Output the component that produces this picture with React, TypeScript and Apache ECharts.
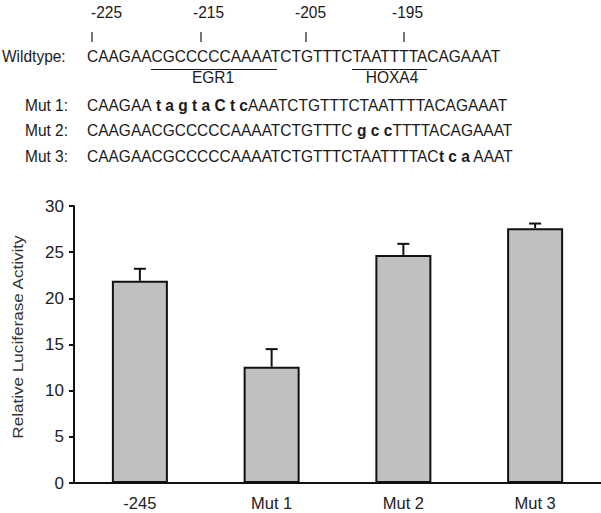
import React, { useEffect, useRef } from "react";
import * as echarts from "echarts";

const categories = ["-245", "Mut 1", "Mut 2", "Mut 3"];
const activity = [21.9, 12.6, 24.7, 27.6];
const errorUpper = [1.3, 1.9, 1.2, 0.5];
const yTicks = { min: 0, max: 30, interval: 5 };

const positionLabels = ["-225", "-215", "-205", "-195"];
const wildtypeSeq = "CAAGAACGCCCCCAAAATCTGTTTCTAATTTTACAGAAAT";
const mutRows = [
  { label: "Mut 1:", parts: [["n", "CAAGAA "], ["b", "t a g t a C t c"], ["n", "AAATCTGTTTCTAATTTTACAGAAAT"]] },
  { label: "Mut 2:", parts: [["n", "CAAGAACGCCCCCAAAATCTGTTTC "], ["b", "g c c"], ["n", "TTTTACAGAAAT"]] },
  { label: "Mut 3:", parts: [["n", "CAAGAACGCCCCCAAAATCTGTTTCTAATTTTAC"], ["b", "t c a"], ["n", " AAAT"]] },
];
const siteLabels = ["EGR1", "HOXA4"];

const FONT = "'Liberation Sans', Arial, Helvetica, sans-serif";
const SY = 1.12;
const FS = 15.5;

export default function App() {
  const ref = useRef<HTMLDivElement>(null);
  useEffect(() => {
    if (!ref.current) return;
    const chart = echarts.init(ref.current, null, { renderer: "svg" });

    const txt = (x: number, y: number, text: string, extra: any = {}) => ({
      type: "text",
      x,
      y,
      scaleY: SY,
      style: {
        text,
        fontSize: FS,
        fontFamily: FONT,
        fill: "#1a1a1a",
        verticalAlign: "middle",
        ...extra,
      },
    });

    const posX = [91, 193, 295, 392];
    const tickX = [92, 201, 306, 404];
    const graphics: any[] = [];
    positionLabels.forEach((p, i) => {
      graphics.push(txt(posX[i], 12, p));
      graphics.push({
        type: "line",
        shape: { x1: tickX[i], y1: 32, x2: tickX[i], y2: 42 },
        style: { stroke: "#1a1a1a", lineWidth: 1.2 },
      });
    });
    graphics.push(txt(2, 56, "Wildtype:"));
    graphics.push(txt(87, 56, wildtypeSeq));
    graphics.push({ type: "line", shape: { x1: 151, y1: 69.5, x2: 277, y2: 69.5 }, style: { stroke: "#1a1a1a", lineWidth: 1 } });
    graphics.push({ type: "line", shape: { x1: 352, y1: 69.5, x2: 427, y2: 69.5 }, style: { stroke: "#1a1a1a", lineWidth: 1 } });
    graphics.push(txt(213, 77, siteLabels[0], { align: "center" }));
    graphics.push(txt(392, 77, siteLabels[1], { align: "center" }));
    const rowY = [105, 130, 155.5];
    mutRows.forEach((row, i) => {
      graphics.push(txt(25, rowY[i], row.label));
      graphics.push({
        type: "text",
        x: 87,
        y: rowY[i],
        scaleY: SY,
        style: {
          text: row.parts.map(([k, s]) => `{${k}|${s}}`).join(""),
          verticalAlign: "middle",
          fontFamily: FONT,
          fontSize: FS,
          fill: "#1a1a1a",
          rich: {
            n: { fontSize: FS, fontFamily: FONT, fill: "#1a1a1a" },
            b: { fontSize: FS, fontFamily: FONT, fontWeight: "bold", fill: "#1a1a1a" },
          },
        },
      });
    });
    graphics.push({
      type: "text",
      x: 18,
      y: 337,
      rotation: Math.PI / 2,
      scaleX: 1.18,
      style: {
        text: "Relative Luciferase Activity",
        fontSize: 14.5,
        fontFamily: FONT,
        fill: "#333",
        align: "center",
        verticalAlign: "middle",
      },
    });

    chart.setOption({
      animation: false,
      grid: { left: 74, top: 206, bottom: 30, right: -22, containLabel: false },
      graphic: graphics,
      xAxis: {
        type: "category",
        data: categories,
        axisLine: { lineStyle: { color: "#111", width: 2 } },
        axisTick: { show: false },
        axisLabel: { fontSize: 16.5, fontFamily: FONT, color: "#222", margin: 11 },
      },
      yAxis: {
        type: "value",
        min: yTicks.min,
        max: yTicks.max,
        interval: yTicks.interval,
        splitLine: { show: false },
        axisLine: { show: true, lineStyle: { color: "#111", width: 2 } },
        axisTick: { show: true, length: 5, lineStyle: { color: "#111", width: 2 } },
        axisLabel: { fontSize: 17, fontFamily: FONT, color: "#222", margin: 10 },
      },
      series: [
        {
          type: "bar",
          data: activity,
          barWidth: 56,
          itemStyle: { color: "#c0c0c0", borderColor: "#111", borderWidth: 2 },
          z: 2,
        },
        {
          type: "custom",
          z: 3,
          data: activity.map((v, i) => [i, v, v + errorUpper[i]]),
          renderItem: (params: any, api: any) => {
            const x = api.value(0);
            const base = api.coord([x, api.value(1)]);
            const top = api.coord([x, api.value(2)]);
            const hw = 6;
            return {
              type: "group",
              children: [
                {
                  type: "line",
                  shape: { x1: base[0], y1: base[1], x2: top[0], y2: top[1] },
                  style: { stroke: "#111", lineWidth: 2 },
                },
                {
                  type: "line",
                  shape: { x1: top[0] - hw, y1: top[1], x2: top[0] + hw, y2: top[1] },
                  style: { stroke: "#111", lineWidth: 2 },
                },
              ],
            };
          },
        },
      ],
    });
    return () => chart.dispose();
  }, []);
  return (
    <div
      ref={ref}
      style={{ position: "fixed", left: 0, top: 0, width: 601, height: 513, background: "#fff" }}
    />
  );
}
